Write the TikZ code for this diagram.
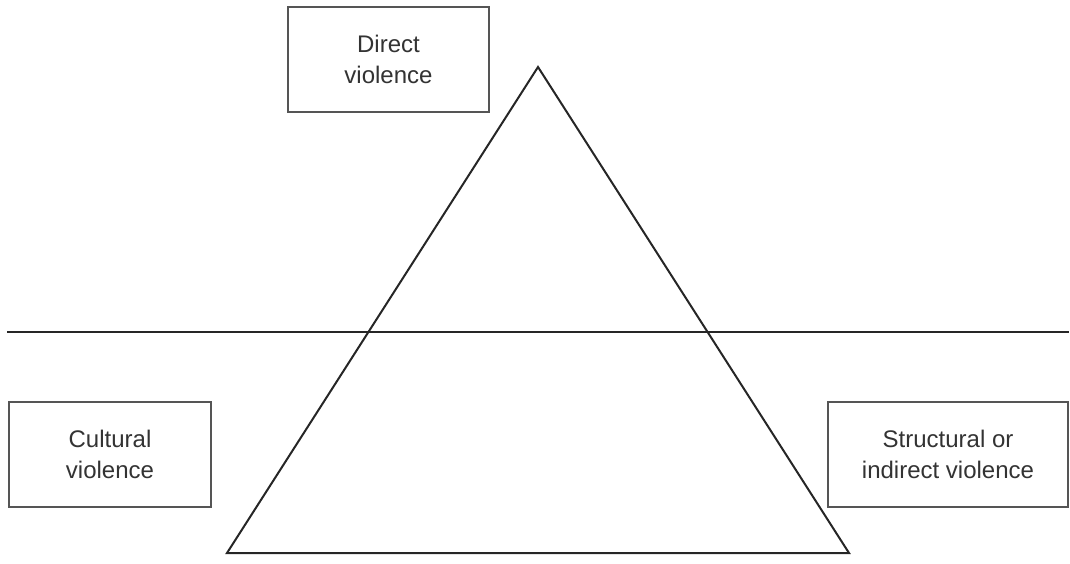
\documentclass[tikz,border=0pt]{standalone}
\usepackage{fontspec}
\setmainfont{Liberation Sans}
\definecolor{boxline}{HTML}{555555}
\definecolor{txt}{HTML}{333333}
\begin{document}
\begin{tikzpicture}[x=1pt,y=-1pt,
  labelbox/.style={draw=boxline,line width=2pt,fill=white,align=center,text=txt,
    font=\fontsize{24}{31}\selectfont,inner sep=0pt},
  edge/.style={draw=black!85,line width=2pt,line join=miter}]
\useasboundingbox (0,0) rectangle (1070,563);
\coordinate (apex) at (538,67);
\coordinate (bl) at (227,553);
\coordinate (br) at (849,553);
\coordinate (hl) at (7,332);
\coordinate (hr) at (1069,332);
\draw[edge] (hl) -- (hr);
\draw[edge] (apex) -- (bl) -- (br) -- cycle;
\node[labelbox,minimum width=201pt,minimum height=105pt] (direct) at (388.5,59.5) {Direct\\violence};
\node[labelbox,minimum width=202pt,minimum height=105pt] (cultural) at (110,454.5) {Cultural\\violence};
\node[labelbox,minimum width=240pt,minimum height=105pt] (structural) at (948,454.5) {Structural or\\indirect violence};
\end{tikzpicture}
\end{document}
